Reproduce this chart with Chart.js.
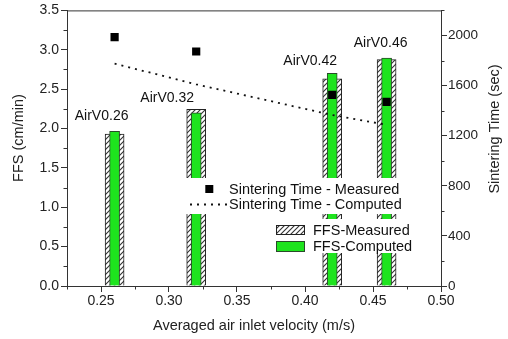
<!DOCTYPE html>
<html>
<head>
<meta charset="utf-8">
<script src="https://cdn.jsdelivr.net/npm/chart.js@4.4.0/dist/chart.umd.min.js"></script>
<style>
  html, body { margin: 0; padding: 0; background: #fff; }
  #wrap { width: 508px; height: 339px; }
</style>
</head>
<body>
<div id="wrap"><canvas id="c" width="508" height="339"></canvas></div>
<script>
// averaged air inlet velocity (m/s) of each run
const velocities = [0.26, 0.32, 0.42, 0.46];
const runLabels  = ['AirV0.26', 'AirV0.32', 'AirV0.42', 'AirV0.46'];
// flame front speed (cm/min)
const ffsMeasured = [1.93, 2.245, 2.63, 2.875];
const ffsComputed = [1.965, 2.20, 2.70, 2.895];
// sintering time (sec)
const sinterMeasured = [1987, 1872, 1525, 1469];
const sinterComputed = [1775, 1610, 1365, 1287];

const FONT = 'Arial, "Liberation Sans", Helvetica, sans-serif';
const INK  = '#222';

// label placement relative to the top of each bar pair (px)
const labelOffsets = [[-13, -15], [-29, -11.5], [-22, -12.5], [-6, -15]];

const xy = ys => velocities.map((v, i) => ({ x: v, y: ys[i] }));

// ── hatch fill for the measured bars ─────────────────────────────────
function hatch() {
  const c = document.createElement('canvas');
  c.width = c.height = 5;
  const g = c.getContext('2d');
  g.fillStyle = '#fff';
  g.fillRect(0, 0, 5, 5);
  g.strokeStyle = '#333';
  g.lineWidth = 1.1;
  g.beginPath();
  g.moveTo(-1, 6); g.lineTo(6, -1);
  g.moveTo(-1, 1); g.lineTo(1, -1);
  g.moveTo(4, 6);  g.lineTo(6, 4);
  g.stroke();
  return g.createPattern(c, 'repeat');
}
const HATCH = hatch();
const GREEN = '#1ee41e';

// ── minor ticks, top frame, legend, labels, titles ───────────────────
const decor = {
  id: 'decor',
  afterDatasetsDraw(chart) {
    const { ctx, chartArea: a } = chart;
    ctx.save();
    ctx.strokeStyle = '#333';
    ctx.lineWidth = 1;
    ctx.beginPath();
    ctx.moveTo(a.left, a.top + 0.5); ctx.lineTo(a.right, a.top + 0.5);
    ctx.moveTo(a.left, a.bottom + 0.5); ctx.lineTo(a.right, a.bottom + 0.5);
    ctx.stroke();

    // legend boxes sit on top of the bars
    ctx.fillStyle = '#fff';
    ctx.fillRect(185, 178, 227, 36);
    ctx.fillRect(268, 219, 144, 34);

    ctx.fillStyle = '#000';
    ctx.fillRect(205.3, 185, 8, 8);
    ctx.strokeStyle = '#111';
    ctx.lineWidth = 1.8;
    ctx.setLineDash([2, 5]);
    ctx.beginPath();
    ctx.moveTo(190, 204.5); ctx.lineTo(227, 204.5);
    ctx.stroke();
    ctx.setLineDash([]);

    ctx.fillStyle = HATCH;
    ctx.fillRect(276, 225, 29, 10);
    ctx.strokeStyle = '#222';
    ctx.lineWidth = 1;
    ctx.strokeRect(276.5, 225.5, 28, 9);
    ctx.fillStyle = GREEN;
    ctx.fillRect(276, 241, 29, 10.5);
    ctx.strokeStyle = '#2a4a2a';
    ctx.strokeRect(276.5, 241.5, 28, 10);

    ctx.fillStyle = '#111';
    ctx.font = '14.5px ' + FONT;
    ctx.textBaseline = 'middle';
    ctx.textAlign = 'left';
    ctx.fillText('Sintering Time - Measured', 229, 189.5);
    ctx.fillText('Sintering Time - Computed', 229, 205);
    ctx.fillText('FFS-Measured', 313, 230.5);
    ctx.fillText('FFS-Computed', 313, 246.5);
    ctx.restore();
  },
  afterDraw(chart) {
    const { ctx, chartArea: a, scales } = chart;
    const x = scales.x, y = scales.y, y2 = scales.y2;
    ctx.save();
    ctx.strokeStyle = '#333';
    ctx.lineWidth = 1;
    ctx.beginPath();
    for (let v = 0.225; v < 0.5; v += 0.05) {
      const px = Math.round(x.getPixelForValue(v)) + 0.5;
      ctx.moveTo(px, a.bottom); ctx.lineTo(px, a.bottom + 3.5);
    }
    for (let v = 0.25; v < 3.5; v += 0.5) {
      const py = Math.round(y.getPixelForValue(v)) + 0.5;
      ctx.moveTo(a.left, py); ctx.lineTo(a.left - 3.5, py);
    }
    for (let v = 200; v <= 2200; v += 400) {
      const py = Math.round(y2.getPixelForValue(v)) + 0.5;
      ctx.moveTo(a.right, py); ctx.lineTo(a.right + 3.5, py);
    }
    ctx.stroke();

    // run labels above each bar pair
    ctx.fillStyle = '#111';
    ctx.font = '14px ' + FONT;
    ctx.textAlign = 'center';
    ctx.textBaseline = 'middle';
    runLabels.forEach((t, i) => {
      const top = Math.min(y.getPixelForValue(ffsMeasured[i]), y.getPixelForValue(ffsComputed[i]));
      const [dx, dy] = labelOffsets[i];
      ctx.fillText(t, x.getPixelForValue(velocities[i]) + dx, top + dy);
    });

    // axis titles
    ctx.font = '14.5px ' + FONT;
    ctx.fillStyle = INK;
    ctx.fillText('Averaged air inlet velocity (m/s)', 254, 326);
    ctx.save();
    ctx.translate(18.5, 138);
    ctx.rotate(-Math.PI / 2);
    ctx.fillText('FFS (cm/min)', 0, 0);
    ctx.restore();
    ctx.save();
    ctx.translate(495, 129);
    ctx.rotate(-Math.PI / 2);
    ctx.fillText('Sintering Time (sec)', 0, 0);
    ctx.restore();
    ctx.restore();
  }
};

const tickFont = { family: FONT, size: 14 };
const axisGrid = { drawOnChartArea: false, offset: false, tickLength: 6, color: '#333' };
const axisBorder = { color: '#333', width: 1 };

new Chart(document.getElementById('c'), {
  type: 'bar',
  data: {
    datasets: [
      {
        type: 'line', label: 'Sintering Time - Measured', data: xy(sinterMeasured), yAxisID: 'y2',
        showLine: false, pointStyle: 'rect', pointRadius: 5.8, pointBorderWidth: 0,
        backgroundColor: '#000', borderColor: '#000', order: 0,
      },
      {
        type: 'line', label: 'Sintering Time - Computed', data: xy(sinterComputed), yAxisID: 'y2',
        borderColor: '#111', borderWidth: 1.8, borderDash: [2, 5], pointRadius: 0,
        fill: false, tension: 0, order: 1,
      },
      {
        label: 'FFS-Computed', data: xy(ffsComputed), yAxisID: 'y',
        backgroundColor: GREEN, borderColor: '#2a4a2a', borderWidth: 1,
        barThickness: 10, grouped: false, order: 2,
      },
      {
        label: 'FFS-Measured', data: xy(ffsMeasured), yAxisID: 'y',
        backgroundColor: HATCH, borderColor: '#222', borderWidth: 1,
        barThickness: 19, grouped: false, order: 3,
      },
    ]
  },
  options: {
    responsive: false,
    animation: false,
    layout: { padding: { top: 9, left: 0, right: 0, bottom: 0 } },
    plugins: { legend: { display: false }, tooltip: { enabled: false } },
    scales: {
      x: {
        type: 'linear', min: 0.225, max: 0.5, offset: false,
        ticks: { stepSize: 0.05, includeBounds: false, callback: v => v.toFixed(2),
                 color: INK, font: tickFont, padding: 1, maxRotation: 0, autoSkip: false },
        grid: axisGrid, border: axisBorder,
        afterFit: s => { s.height = 53; },
      },
      y: {
        position: 'left', min: 0, max: 3.5,
        ticks: { stepSize: 0.5, callback: v => v.toFixed(1), color: INK, font: tickFont, padding: 2 },
        grid: axisGrid, border: axisBorder,
        afterFit: s => { s.width = 67; },
      },
      y2: {
        position: 'right', min: 0, max: 2200,
        ticks: { stepSize: 400, includeBounds: false, callback: v => String(v),
                 color: INK, font: { family: FONT, size: 13.5 }, padding: 1 },
        grid: axisGrid, border: axisBorder,
        afterFit: s => { s.width = 67; },
      }
    }
  },
  plugins: [decor]
});
</script>
</body>
</html>
